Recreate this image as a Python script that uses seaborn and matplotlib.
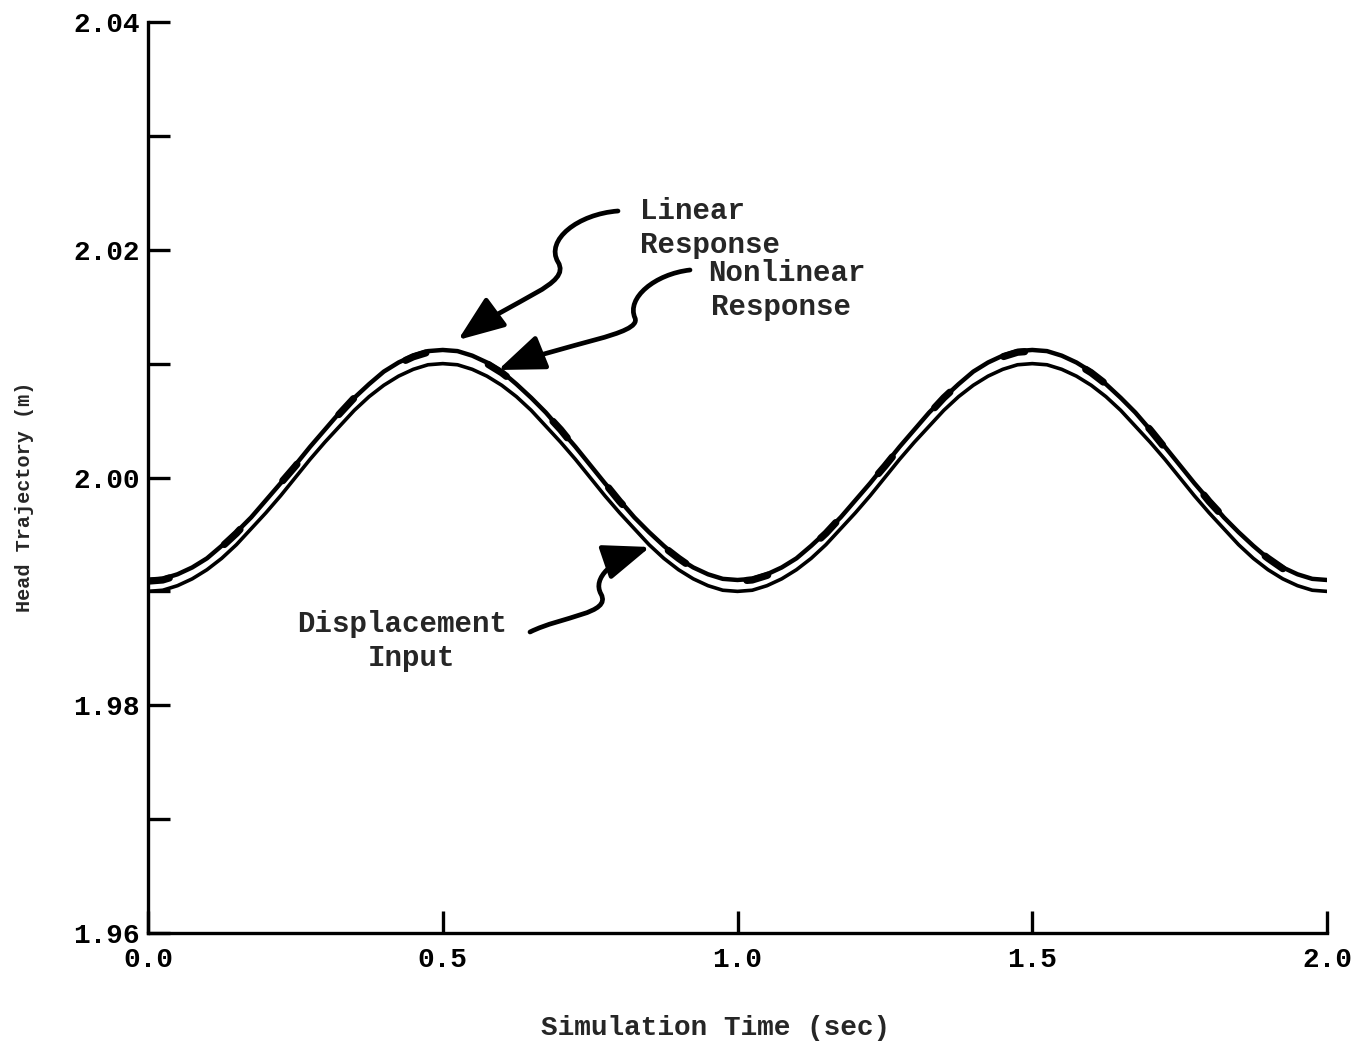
import matplotlib
matplotlib.use("Agg")
import matplotlib.pyplot as plt
from matplotlib.path import Path
from matplotlib.patches import FancyArrowPatch
import seaborn as sns
import pandas as pd

# Simulation time samples (s)
time_s = [
    0.000, 0.025, 0.050, 0.075, 0.100, 0.125, 0.150, 0.175, 0.200, 0.225,
    0.250, 0.275, 0.300, 0.325, 0.350, 0.375, 0.400, 0.425, 0.450, 0.475,
    0.500, 0.525, 0.550, 0.575, 0.600, 0.625, 0.650, 0.675, 0.700, 0.725,
    0.750, 0.775, 0.800, 0.825, 0.850, 0.875, 0.900, 0.925, 0.950, 0.975,
    1.000, 1.025, 1.050, 1.075, 1.100, 1.125, 1.150, 1.175, 1.200, 1.225,
    1.250, 1.275, 1.300, 1.325, 1.350, 1.375, 1.400, 1.425, 1.450, 1.475,
    1.500, 1.525, 1.550, 1.575, 1.600, 1.625, 1.650, 1.675, 1.700, 1.725,
    1.750, 1.775, 1.800, 1.825, 1.850, 1.875, 1.900, 1.925, 1.950, 1.975,
    2.000,
]

# Head trajectory (m): base displacement input
displacement_input = [
    1.9900, 1.9901, 1.9905, 1.9911, 1.9919, 1.9929, 1.9941, 1.9955, 1.9969, 1.9984,
    2.0000, 2.0016, 2.0031, 2.0045, 2.0059, 2.0071, 2.0081, 2.0089, 2.0095, 2.0099,
    2.0100, 2.0099, 2.0095, 2.0089, 2.0081, 2.0071, 2.0059, 2.0045, 2.0031, 2.0016,
    2.0000, 1.9984, 1.9969, 1.9955, 1.9941, 1.9929, 1.9919, 1.9911, 1.9905, 1.9901,
    1.9900, 1.9901, 1.9905, 1.9911, 1.9919, 1.9929, 1.9941, 1.9955, 1.9969, 1.9984,
    2.0000, 2.0016, 2.0031, 2.0045, 2.0059, 2.0071, 2.0081, 2.0089, 2.0095, 2.0099,
    2.0100, 2.0099, 2.0095, 2.0089, 2.0081, 2.0071, 2.0059, 2.0045, 2.0031, 2.0016,
    2.0000, 1.9984, 1.9969, 1.9955, 1.9941, 1.9929, 1.9919, 1.9911, 1.9905, 1.9901,
    1.9900,
]

# Head trajectory (m): linear model response
linear_response = [
    1.9910, 1.9911, 1.9915, 1.9921, 1.9929, 1.9940, 1.9952, 1.9965, 1.9980, 1.9995,
    2.0011, 2.0027, 2.0042, 2.0057, 2.0070, 2.0082, 2.0093, 2.0101, 2.0107, 2.0111,
    2.0112, 2.0111, 2.0107, 2.0101, 2.0093, 2.0082, 2.0070, 2.0057, 2.0042, 2.0027,
    2.0011, 1.9995, 1.9980, 1.9965, 1.9952, 1.9940, 1.9929, 1.9921, 1.9915, 1.9911,
    1.9910, 1.9911, 1.9915, 1.9921, 1.9929, 1.9940, 1.9952, 1.9965, 1.9980, 1.9995,
    2.0011, 2.0027, 2.0042, 2.0057, 2.0070, 2.0082, 2.0093, 2.0101, 2.0107, 2.0111,
    2.0112, 2.0111, 2.0107, 2.0101, 2.0093, 2.0082, 2.0070, 2.0057, 2.0042, 2.0027,
    2.0011, 1.9995, 1.9980, 1.9965, 1.9952, 1.9940, 1.9929, 1.9921, 1.9915, 1.9911,
    1.9910,
]

# Head trajectory (m): nonlinear model response
nonlinear_response = [
    1.9909, 1.9910, 1.9914, 1.9920, 1.9929, 1.9939, 1.9951, 1.9965, 1.9979, 1.9995,
    2.0010, 2.0026, 2.0042, 2.0056, 2.0070, 2.0082, 2.0092, 2.0100, 2.0106, 2.0110,
    2.0111, 2.0110, 2.0106, 2.0100, 2.0092, 2.0082, 2.0070, 2.0056, 2.0042, 2.0026,
    2.0010, 1.9995, 1.9979, 1.9965, 1.9951, 1.9939, 1.9929, 1.9920, 1.9914, 1.9910,
    1.9909, 1.9910, 1.9914, 1.9920, 1.9929, 1.9939, 1.9951, 1.9965, 1.9979, 1.9995,
    2.0010, 2.0026, 2.0042, 2.0056, 2.0070, 2.0082, 2.0092, 2.0100, 2.0106, 2.0110,
    2.0111, 2.0110, 2.0106, 2.0100, 2.0092, 2.0082, 2.0070, 2.0056, 2.0042, 2.0026,
    2.0010, 1.9995, 1.9979, 1.9965, 1.9951, 1.9939, 1.9929, 1.9920, 1.9914, 1.9910,
    1.9909,
]

x_ticks = [0.0, 0.5, 1.0, 1.5, 2.0]
x_tick_labels = ["0.0", "0.5", "1.0", "1.5", "2.0"]
y_ticks = [1.96, 1.97, 1.98, 1.99, 2.00, 2.01, 2.02, 2.03, 2.04]
y_tick_labels = ["1.96", "", "1.98", "", "2.00", "", "2.02", "", "2.04"]

df = pd.DataFrame({
    "t": time_s,
    "input": displacement_input,
    "linear": linear_response,
    "nonlinear": nonlinear_response,
})

sns.set_theme(style="ticks")
plt.rcParams["font.family"] = ["Liberation Mono", "DejaVu Sans Mono"]
plt.rcParams["font.weight"] = "bold"

W, H = 1359, 1050
fig = plt.figure(figsize=(W / 100, H / 100), dpi=100)
ax = fig.add_axes([148 / W, 1 - 933 / H, (1327 - 148) / W, (933 - 22) / H])

sns.lineplot(data=df, x="t", y="input", ax=ax, color="black", linewidth=2.6)
sns.lineplot(data=df, x="t", y="linear", ax=ax, color="black", linewidth=3.2)
nl = sns.lineplot(data=df, x="t", y="nonlinear", ax=ax, color="black", linewidth=5.2)
nl.lines[-1].set_dashes([3, 9])
nl.lines[-1].set_dash_capstyle("round")

ax.set_xlim(0.0, 2.0)
ax.set_ylim(1.96, 2.04)
ax.set_xticks(x_ticks)
ax.set_xticklabels(x_tick_labels)
ax.set_yticks(y_ticks)
ax.set_yticklabels(y_tick_labels)
ax.tick_params(axis="both", direction="in", length=16, width=2.4,
               labelsize=20, colors="black")
ax.tick_params(axis="x", pad=10)
ax.tick_params(axis="y", pad=6)
for lbl in ax.get_xticklabels() + ax.get_yticklabels():
    lbl.set_fontweight("bold")

for side in ("top", "right"):
    ax.spines[side].set_visible(False)
for side in ("left", "bottom"):
    ax.spines[side].set_linewidth(2.4)
    ax.spines[side].set_color("black")

ax.set_xlabel("")
ax.set_ylabel("")
fig.text(716 / W, 1 - 1028 / H, "Simulation Time (sec)", ha="center", va="center",
         fontsize=20, fontweight="bold")
fig.text(25 / W, 1 - 497 / H, "Head Trajectory (m)", ha="center", va="center",
         rotation=90, fontsize=14.5, fontweight="bold")

# Curve labels
label_kw = dict(fontsize=21, fontweight="bold", va="center")
fig.text(640 / W, 1 - 211 / H, "Linear", ha="left", **label_kw)
fig.text(640 / W, 1 - 245 / H, "Response", ha="left", **label_kw)
fig.text(708 / W, 1 - 273 / H, "Nonlinear", ha="left", **label_kw)
fig.text(711 / W, 1 - 307 / H, "Response", ha="left", **label_kw)
fig.text(402 / W, 1 - 624 / H, "Displacement", ha="center", **label_kw)
fig.text(412 / W, 1 - 658 / H, "Input", ha="center", **label_kw)


def px(x, y):
    return (x / W, 1 - y / H)


def pointer(points):
    codes = [Path.MOVETO] + [Path.CURVE4] * (len(points) - 1)
    path = Path([px(*p) for p in points], codes)
    arrow = FancyArrowPatch(path=path, transform=fig.transFigure,
                            arrowstyle="-|>,head_length=1.3,head_width=0.5",
                            mutation_scale=22, linewidth=3.4, color="black",
                            capstyle="round", joinstyle="round")
    fig.add_artist(arrow)


pointer([(618, 211), (578, 214), (545, 240), (558, 262),
         (572, 285), (515, 298), (458, 340)])
pointer([(690, 270), (655, 274), (626, 298), (635, 318),
         (642, 335), (565, 343), (498, 370)])
pointer([(530, 632), (562, 616), (612, 614), (601, 594),
         (592, 578), (612, 560), (650, 547)])

fig.savefig("out.png", dpi=100, facecolor="white")
